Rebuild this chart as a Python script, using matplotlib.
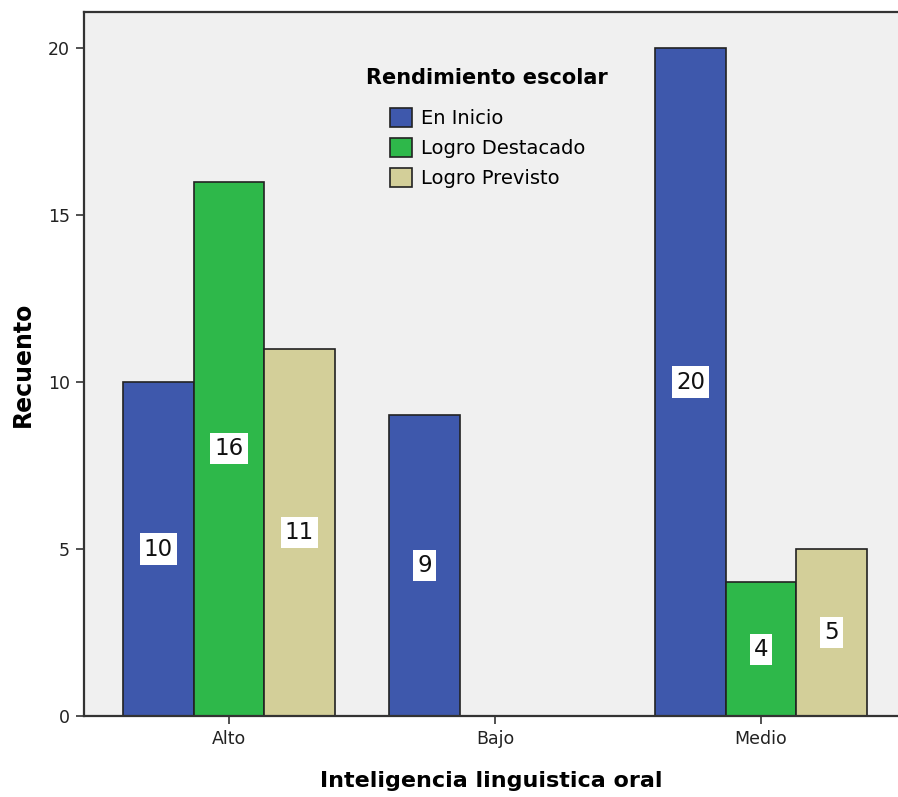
import numpy as np
import matplotlib.pyplot as plt
from matplotlib.patches import Patch

# Datos del gráfico
categorias = ['Alto', 'Bajo', 'Medio']
series = ['En Inicio', 'Logro Destacado', 'Logro Previsto']
en_inicio = [10, 9, 20]
logro_destacado = [16, 0, 4]
logro_previsto = [11, 0, 5]
colores = ['#3E58AC', '#2EB84A', '#D3CF99']

valores = [en_inicio, logro_destacado, logro_previsto]

fig = plt.figure(figsize=(8.98, 7.97), dpi=100)
ax = fig.add_axes([84 / 898, 1 - 716 / 797, (898 - 84) / 898, (716 - 12) / 797])
ax.set_facecolor('#F0F0F0')

x = np.arange(len(categorias))
ancho = 0.265
for i, (nombre, vals) in enumerate(zip(series, valores)):
    for j, v in enumerate(vals):
        if v == 0:
            continue
        xb = x[j] + (i - 1) * ancho
        ax.bar(xb, v, width=ancho, color=colores[i], edgecolor='#222222', linewidth=1.2, zorder=2)
        ax.text(xb, v / 2, str(v), ha='center', va='center', fontsize=16.5, color='#111111',
                bbox=dict(facecolor='white', edgecolor='none', pad=3), zorder=3)

ax.set_xlim(-0.545, 2.515)
ax.set_ylim(0, 21.08)
ax.set_yticks([0, 5, 10, 15, 20])
ax.set_xticks(x)
ax.set_xticklabels(categorias)
ax.tick_params(axis='both', direction='out', length=6, width=1.2, color='#333333',
               labelsize=12.5, labelcolor='#222222', pad=4)

for s in ['left', 'bottom', 'top']:
    ax.spines[s].set_color('#333333')
    ax.spines[s].set_linewidth(1.6)
ax.spines['right'].set_visible(False)

ax.set_xlabel('Inteligencia linguistica oral', fontsize=16, fontweight='bold')
ax.set_ylabel('Recuento', fontsize=17, fontweight='bold')
ax.xaxis.set_label_coords(0.5, -0.078)
ax.yaxis.set_label_coords(-0.06, 0.5)

# Leyenda: título aparte para controlar el espacio
fig.text(487 / 898, 1 - 78 / 797, 'Rendimiento escolar', ha='center', va='center',
         fontsize=15, fontweight='bold')
handles = [Patch(facecolor=c, edgecolor='#222222', linewidth=1.2) for c in colores]
leg = ax.legend(handles, series, frameon=False, fontsize=14,
                handlelength=1.15, handleheight=1.15, handletextpad=0.45, labelspacing=0.5,
                borderpad=0, borderaxespad=0,
                loc='upper left', bbox_to_anchor=(390 / 898, 1 - 108 / 797),
                bbox_transform=fig.transFigure)

fig.savefig('out.png', dpi=100)
